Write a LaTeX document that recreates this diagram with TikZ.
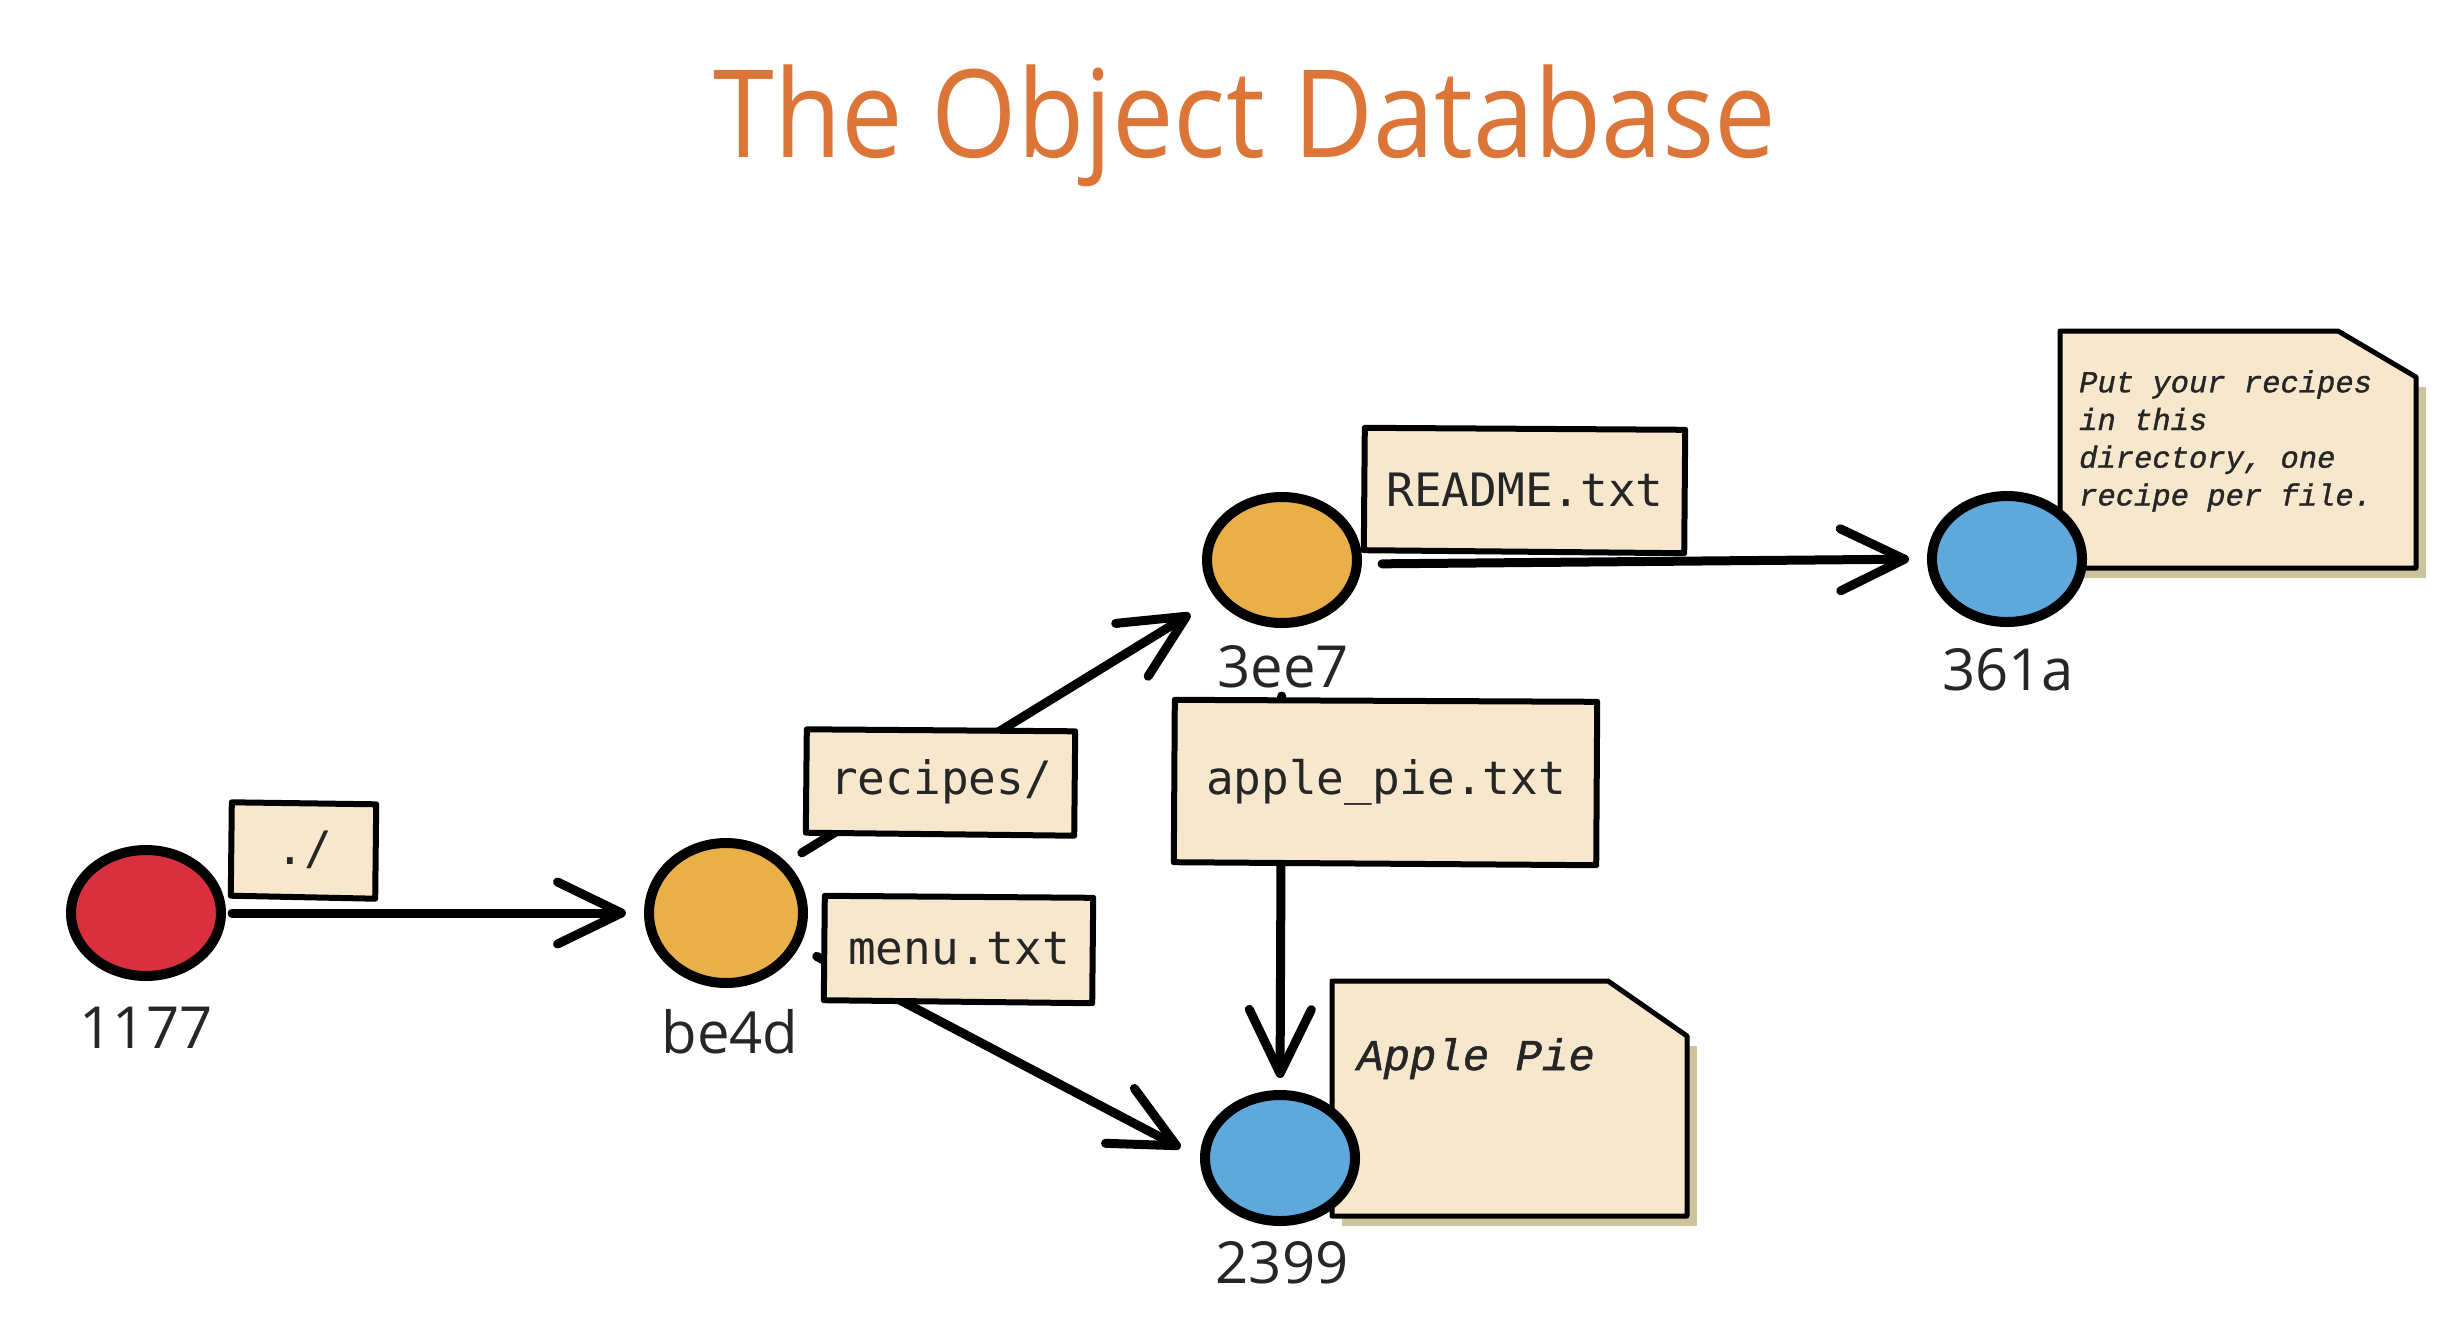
\documentclass[tikz,border=0pt]{standalone}
\usepackage{fontspec}
\setmainfont{Open Sans}
\newfontfamily\titlefont[FakeStretch=0.9]{Open Sans}
\newfontfamily\boxfont{DejaVu Sans Mono}
\newfontfamily\notefont[FakeBold=1.2]{Liberation Mono}
\usetikzlibrary{arrows.meta,shapes.geometric}
\pgfdeclarelayer{edges}
\pgfdeclarelayer{boxbg}
\pgfsetlayers{edges,boxbg,main}
\definecolor{titleorange}{HTML}{DB7638}
\definecolor{blobred}{HTML}{D8303F}
\definecolor{bloborange}{HTML}{E9B04A}
\definecolor{blobblue}{HTML}{5EA8DC}
\definecolor{paper}{HTML}{F6E7CD}
\definecolor{papershadow}{HTML}{CDC39E}
\tikzset{
  blob/.style={ellipse, draw=black, line width=10pt, minimum width=150pt, minimum height=126pt, inner sep=0pt},
  hashlbl/.style={font=\fontsize{58}{60}\selectfont, inner sep=0pt, text=black!85},
  boxtxt/.style={font=\boxfont\fontsize{46}{50}\selectfont, inner sep=0pt, text=black!85},
  boxshape/.style={draw=black, fill=paper, line width=6pt, line join=round},
  noteshape/.style={draw=black, fill=paper, line width=5pt, line join=round},
  noteshadow/.style={fill=papershadow, draw=none},
  notetxt/.style={font=\notefont\itshape, inner sep=0pt, align=left, text=black!85},
  arr/.style={line width=9pt, line cap=round, -{Straight Barb[length=64pt, width=62pt, line width=9pt, line join=round, line cap=round]}},
}
\newcommand\handbox[1]{%
  \begin{pgfonlayer}{boxbg}
  \draw[boxshape] ([shift={(-3pt,3pt)}]#1.north west) -- ([shift={(3pt,1pt)}]#1.north east)
     -- ([shift={(2pt,-4pt)}]#1.south east) -- ([shift={(-4pt,-1pt)}]#1.south west) -- cycle;
  \end{pgfonlayer}}
\begin{document}
\begin{tikzpicture}[x=1pt,y=-1pt]
\useasboundingbox (0,0) rectangle (2460,1339);

% title
\node[font=\titlefont\fontsize{122}{130}\selectfont, text=titleorange, anchor=base, inner sep=0pt] (title) at (1245,157) {The Object Database};

% objects
\node[blob, fill=blobred] (n1177) at (146,913) {};
\node[blob, fill=bloborange, minimum width=154pt, minimum height=140pt] (be4d) at (726,913) {};
\node[blob, fill=bloborange] (n3ee7) at (1282,560) {};
\node[blob, fill=blobblue] (n361a) at (2007,559) {};
\node[blob, fill=blobblue] (n2399) at (1280,1158) {};

\node[hashlbl] (l1177) at (146,1028) {1177};
\node[hashlbl] (lbe4d) at (730,1032) {be4d};
\node[hashlbl] (l3ee7) at (1283,667) {3ee7};
\node[hashlbl] (l361a) at (2008,670) {361a};
\node[hashlbl] (l2399) at (1282,1263) {2399};

% name boxes
\node[boxtxt, minimum width=138pt, minimum height=89pt] (bdot) at (304,850) {./};
\node[boxtxt, minimum width=262pt, minimum height=99pt] (brec) at (941,782) {recipes/};
\node[boxtxt, minimum width=262pt, minimum height=100pt] (bmenu) at (959,949) {menu.txt};
\node[boxtxt, minimum width=314pt, minimum height=118pt] (bread) at (1525,490) {README.txt};
\node[boxtxt, minimum width=416pt, minimum height=158pt] (bapple) at (1386,782) {apple\_pie.txt};
\handbox{bdot}
\handbox{brec}
\handbox{bmenu}
\handbox{bread}
\handbox{bapple}

% notes
\begin{pgfonlayer}{boxbg}
\fill[noteshadow] (2070,387) -- (2426,387) -- (2426,578) -- (2070,578) -- cycle;
\draw[noteshape] (2060,331) -- (2338,331) -- (2416,377) -- (2416,568) -- (2060,568) -- cycle;
\fill[noteshadow] (1342,1046) -- (1697,1046) -- (1697,1226) -- (1342,1226) -- cycle;
\draw[noteshape] (1332,981) -- (1608,981) -- (1687,1036) -- (1687,1216) -- (1332,1216) -- cycle;
\end{pgfonlayer}
\node[notetxt, font=\notefont\itshape\fontsize{30.5}{37.7}\selectfont, anchor=north west] (t361a) at (2079,370)
  {Put your recipes\\in this\\directory, one\\recipe per file.};
\node[notetxt, font=\notefont\itshape\fontsize{44}{50}\selectfont, anchor=base west] (t2399) at (1357,1070) {Apple Pie};

% connectors
\begin{pgfonlayer}{edges}
\draw[arr, shorten <=6pt, shorten >=18pt] (n1177.east) -- (be4d.west);
\draw[arr, shorten <=18pt, shorten >=30pt] (be4d.40) -- (n3ee7.210);
\draw[arr, shorten <=20pt, shorten >=22pt] (be4d.-25) -- (n2399.west);
\draw[arr, shorten <=20pt, shorten >=18pt] ([yshift=-4pt]n3ee7.east) -- (n361a.west);
\draw[arr, shorten <=68pt, shorten >=12pt] (n3ee7.south) -- (n2399.north);
\end{pgfonlayer}
\end{tikzpicture}
\end{document}
